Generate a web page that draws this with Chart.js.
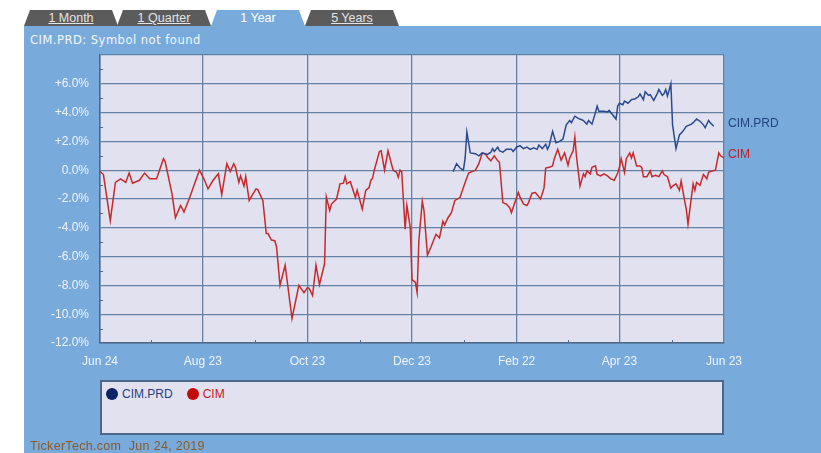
<!DOCTYPE html>
<html>
<head>
<meta charset="utf-8">
<script src="https://cdn.jsdelivr.net/npm/chart.js@4/dist/chart.umd.min.js"></script>
<style>
  body { margin: 0; background: #ffffff; font-family: "Liberation Sans", Arial, sans-serif; }
  #page { position: relative; width: 821px; height: 453px; overflow: hidden; }
  #panel { position: absolute; left: 24px; top: 26px; width: 797px; height: 427px; background: #78abdc; }
  .tab { position: absolute; top: 10px; height: 16px; width: 94px; background: #5b5b5b;
         clip-path: polygon(6px 0, calc(100% - 6px) 0, 100% 100%, 0 100%);
         color: #e4e4e4; font-size: 12.5px; line-height: 16px; text-align: center; }
  .tab span { text-decoration: underline; }
  .tab.active { background: #78abdc; color: #ffffff; }
  .tab.active span { text-decoration: none; }
  #title { position: absolute; left: 30px; top: 33px; color: #f4f6ff; font-family: "DejaVu Sans", sans-serif;
           font-size: 11.5px; letter-spacing: 0.5px; }
  #chartBox { position: absolute; left: 0; top: 0; width: 821px; height: 453px; }
  #legend { position: absolute; left: 100px; top: 380px; width: 624px; height: 55px; box-sizing: border-box;
            background: #e1e1f0; border: 2px solid #4d6789; padding: 5px 0 0 4px; font-size: 12px; }
  .item { display: inline-flex; align-items: center; margin-right: 14px; }
  .dot { width: 12px; height: 12px; border-radius: 50%; margin-right: 4px; }
  #footer { position: absolute; left: 30px; top: 439px; color: #8b5a24; font-size: 12.5px; letter-spacing: 0.3px; }
</style>
</head>
<body>
<div id="page">
  <div id="panel"></div>
  <div class="tab" style="left:24px"><span>1 Month</span></div>
  <div class="tab" style="left:117px"><span>1 Quarter</span></div>
  <div class="tab active" style="left:211px"><span>1 Year</span></div>
  <div class="tab" style="left:305px"><span>5 Years</span></div>
  <div id="title">CIM.PRD: Symbol not found</div>
  <div id="chartBox"><canvas id="chart"></canvas></div>
  <div id="legend"></div>
  <div id="footer">TickerTech.com&nbsp; Jun 24, 2019</div>
</div>
<script>
// --- Data (x = days since Jun 24, y = % change) ---
const xTickDays = [0, 60, 121, 182, 243, 303, 364];
const xTickLabels = ['Jun 24', 'Aug 23', 'Oct 23', 'Dec 23', 'Feb 22', 'Apr 23', 'Jun 23'];
const yTickValues = [-12, -10, -8, -6, -4, -2, 0, 2, 4, 6, 8];
const yTickLabels = ['-12.0%', '-10.0%', '-8.0%', '-6.0%', '-4.0%', '-2.0%', '0.0%', '+2.0%', '+4.0%', '+6.0%', ''];

const cimDays = [
  0, 2, 6, 9, 12, 15, 17, 19, 23, 26,
  29, 33, 37, 38, 42, 44, 47, 49, 52, 58,
  61, 63, 66, 69, 71, 74, 76, 78, 79, 81,
  82, 84, 85, 87, 91, 92, 95, 97, 98, 100,
  102, 103, 105, 108, 112, 116, 119, 121, 122, 124,
  126, 128, 131, 132, 134, 135, 138, 140, 142, 143,
  144, 146, 149, 150, 153, 155, 157, 158, 159, 160,
  163, 164, 166, 168, 169, 171, 173, 174, 175, 176,
  178, 179, 181, 182, 184, 185, 186, 188, 189, 191,
  193, 196, 198, 200, 201, 203, 205, 207, 210, 212,
  213, 215, 217, 219, 221, 223, 225, 226, 228, 230,
  232, 233, 235, 237, 239, 240, 242, 244, 245, 247,
  249, 250, 252, 254, 257, 259, 260, 262, 264, 265,
  267, 269, 271, 273, 274, 276, 277, 278, 280, 282,
  283, 284, 286, 287, 289, 290, 292, 294, 296, 298,
  300, 302, 303, 304, 306, 307, 309, 310, 311, 313,
  315, 316, 317, 319, 321, 322, 324, 326, 328, 329,
  331, 333, 334, 336, 338, 339, 341, 342, 343, 345,
  346, 347, 348, 350, 352, 354, 355, 357, 359, 361,
  362, 364
];
const cimValues = [
  -0.1, -0.3, -3.5, -0.85, -0.6, -0.85, -0.2, -0.9, -0.7, -0.2,
  -0.6, -0.6, 0.8, 0.6, -1.65, -3.3, -2.45, -2.9, -2.0, 0.0,
  -0.7, -1.3, -0.7, -0.25, -1.7, 0.45, -0.1, 0.45, 0.2, -0.85,
  -0.4, -1.1, -0.45, -2.1, -1.3, -1.35, -2.1, -4.4, -4.4, -4.85,
  -4.9, -5.35, -8.0, -6.6, -10.3, -8.0, -8.5, -8.15, -8.2, -8.7,
  -6.6, -7.95, -6.5, -1.85, -2.8, -2.35, -2.0, -0.95, -0.9, -0.45,
  -0.95, -0.8, -1.9, -1.4, -2.7, -1.4, -1.2, -0.7, -0.55, 0,
  1.3, 1.35, 0, 1.35, 0.9, 0, -0.15, -0.5, 0, -0.1,
  -4.1, -2.45, -4.0, -7.6, -7.8, -8.5, -4.9, -2.15, -2.8, -5.9,
  -5.35, -4.45, -4.7, -3.55, -3.8, -3.3, -2.95, -2.1, -1.9, -1.2,
  -0.85, -0.2, -0.1, 0, 0.45, 1.2, 1.1, 0.9, 0.65, 1.0,
  0.65, 0.55, -2.25, -2.35, -2.6, -2.95, -2.25, -1.55, -1.85, -2.35,
  -2.45, -2.25, -1.6, -1.55, -2.0, -1.25, 0.15, 0.2, 0.3, 0.8,
  1.45, 0.7, 1.2, 0.35, 0.85, 1.35, 2.3, 0.9, -1.1, -0.25,
  -0.45, -0.05, -0.25, 0.2, 0.3, -0.3, -0.4, -0.25, -0.4, -0.6,
  -0.7, -0.2, 0.2, 0.8, -0.15, 0.8, 1.2, 0.85, 1.2, 0.3,
  0.3, 0.2, -0.45, -0.45, -0.05, -0.45, -0.35, -0.45, -0.05, -0.3,
  -0.45, -1.25, -1.1, -0.95, -1.4, -0.75, -2.1, -2.7, -3.75, -1.85,
  -0.95, -1.4, -0.85, -1.05, -0.3, -0.6, -0.15, -0.05, 0, 1.2,
  1.0, 0.85
];

const prdDays = [
  206, 208, 210, 212, 213, 214, 216, 219, 221, 223,
  226, 228, 229, 230, 232, 233, 235, 237, 240, 241,
  243, 245, 247, 249, 251, 253, 255, 256, 258, 260,
  261, 262, 264, 266, 268, 270, 272, 274, 275, 277,
  279, 281, 282, 284, 285, 287, 289, 290, 291, 294,
  296, 297, 299, 301, 302, 303, 305, 306, 308, 310,
  312, 314, 315, 317, 318, 320, 321, 323, 325, 326,
  328, 329, 330, 331, 333, 334, 336, 338, 340, 342,
  345, 346, 348, 350, 352, 353, 355, 356, 358
];
const prdValues = [
  -0.1, 0.45, 0.15, 0, 0.85, 2.65, 1.2, 1.15, 1.0, 1.2,
  1.1, 1.25, 1.5, 1.3, 1.6, 1.35, 1.25, 1.45, 1.45, 1.3,
  1.6, 1.7, 1.5, 1.6, 1.45, 1.55, 1.45, 1.75, 1.5, 1.8,
  1.45, 1.7, 2.7, 1.9, 2.0, 2.15, 3.15, 3.45, 3.3, 3.75,
  3.6, 3.5, 3.45, 3.2, 3.45, 3.2, 4.0, 4.45, 4.1, 4.1,
  4.05, 4.15, 3.85, 3.55, 4.45, 4.65, 4.55, 4.8, 4.65, 4.9,
  4.95, 5.1, 5.3, 4.9, 5.45, 5.2, 5.25, 4.85, 5.3, 5.6,
  5.2, 5.3, 5.6, 5.15, 6.0, 3.15, 1.5, 2.45, 2.7, 3.05,
  3.2, 3.3, 3.55, 3.4, 3.15, 2.95, 3.45, 3.3, 3.05
];

const seriesNames = ['CIM.PRD', 'CIM'];
const lineColors = ['#2b4a8e', '#c52a2c'];
const dotColors = ['#0c2466', '#c40a0a'];
const labelColors = ['#23437f', '#c21e22'];

const toPoints = (days, vals) => days.map((d, i) => ({ x: d, y: vals[i] }));

// plot background
const plotBg = {
  id: 'plotBg',
  beforeDraw(chart) {
    const { ctx, chartArea: a } = chart;
    ctx.save();
    ctx.fillStyle = '#e1e1f0';
    ctx.fillRect(a.left, a.top, a.right - a.left, a.bottom - a.top);
    ctx.restore();
  }
};

// small minor ticks on left and bottom axis
const minorTicks = {
  id: 'minorTicks',
  afterDraw(chart) {
    const { ctx, chartArea: a, scales } = chart;
    ctx.save();
    ctx.strokeStyle = '#4d6789';
    ctx.lineWidth = 1;
    for (let v = -11; v < 8; v += 2) {
      const y = Math.round(scales.y.getPixelForValue(v)) + 0.5;
      ctx.beginPath(); ctx.moveTo(a.left, y); ctx.lineTo(a.left + 3, y); ctx.stroke();
    }
    for (let i = 0; i < xTickDays.length - 1; i++) {
      const x = Math.round(scales.x.getPixelForValue((xTickDays[i] + xTickDays[i + 1]) / 2)) + 0.5;
      ctx.beginPath(); ctx.moveTo(x, a.bottom); ctx.lineTo(x, a.bottom - 3); ctx.stroke();
    }
    ctx.restore();
  }
};

// series name at the end of each line
const endLabels = {
  id: 'endLabels',
  afterDatasetsDraw(chart) {
    const { ctx, chartArea: a } = chart;
    ctx.save();
    ctx.font = '12px "Liberation Sans", Arial, sans-serif';
    ctx.textBaseline = 'middle';
    chart.data.datasets.forEach((ds, i) => {
      const pts = chart.getDatasetMeta(i).data;
      const last = pts[pts.length - 1];
      ctx.fillStyle = labelColors[i];
      ctx.fillText(ds.label, a.right + 4, last.y - 3);
    });
    ctx.restore();
  }
};

new Chart(document.getElementById('chart'), {
  type: 'line',
  data: {
    datasets: [
      { label: seriesNames[0], data: toPoints(prdDays, prdValues), borderColor: lineColors[0], borderWidth: 1.5, pointRadius: 0, tension: 0 },
      { label: seriesNames[1], data: toPoints(cimDays, cimValues), borderColor: lineColors[1], borderWidth: 1.5, pointRadius: 0, tension: 0 }
    ]
  },
  options: {
    responsive: true,
    maintainAspectRatio: false,
    animation: false,
    layout: { padding: { left: 24, top: 55, right: 97, bottom: 80 } },
    plugins: { legend: { display: false }, tooltip: { enabled: false } },
    scales: {
      x: {
        type: 'linear', min: 0, max: 364,
        afterBuildTicks: s => { s.ticks = xTickDays.map(v => ({ value: v })); },
        afterFit: s => { s.height = 30; },
        grid: { color: '#6482a6', lineWidth: 1.3, drawTicks: false },
        border: { color: '#4d6789', width: 1.5 },
        ticks: {
          color: '#f2f3fc', padding: 11, maxRotation: 0,
          font: { family: '"Liberation Sans", Arial, sans-serif', size: 12 },
          callback: (v, i) => xTickLabels[i]
        }
      },
      y: {
        min: -12, max: 8,
        afterBuildTicks: s => { s.ticks = yTickValues.map(v => ({ value: v })); },
        afterFit: s => { s.width = 76; },
        grid: { color: '#6482a6', lineWidth: 1.3, drawTicks: false },
        border: { color: '#4d6789', width: 1.5 },
        ticks: {
          color: '#f2f3fc', padding: 11,
          font: { family: '"Liberation Sans", Arial, sans-serif', size: 12 },
          callback: (v, i) => yTickLabels[i]
        }
      }
    }
  },
  plugins: [plotBg, minorTicks, endLabels]
});

// HTML legend
const legend = document.getElementById('legend');
seriesNames.forEach((name, i) => {
  const item = document.createElement('span');
  item.className = 'item';
  item.innerHTML = '<span class="dot" style="background:' + dotColors[i] + '"></span>' +
    '<span style="color:' + labelColors[i] + '">' + name + '</span>';
  legend.appendChild(item);
});
</script>
</body>
</html>
